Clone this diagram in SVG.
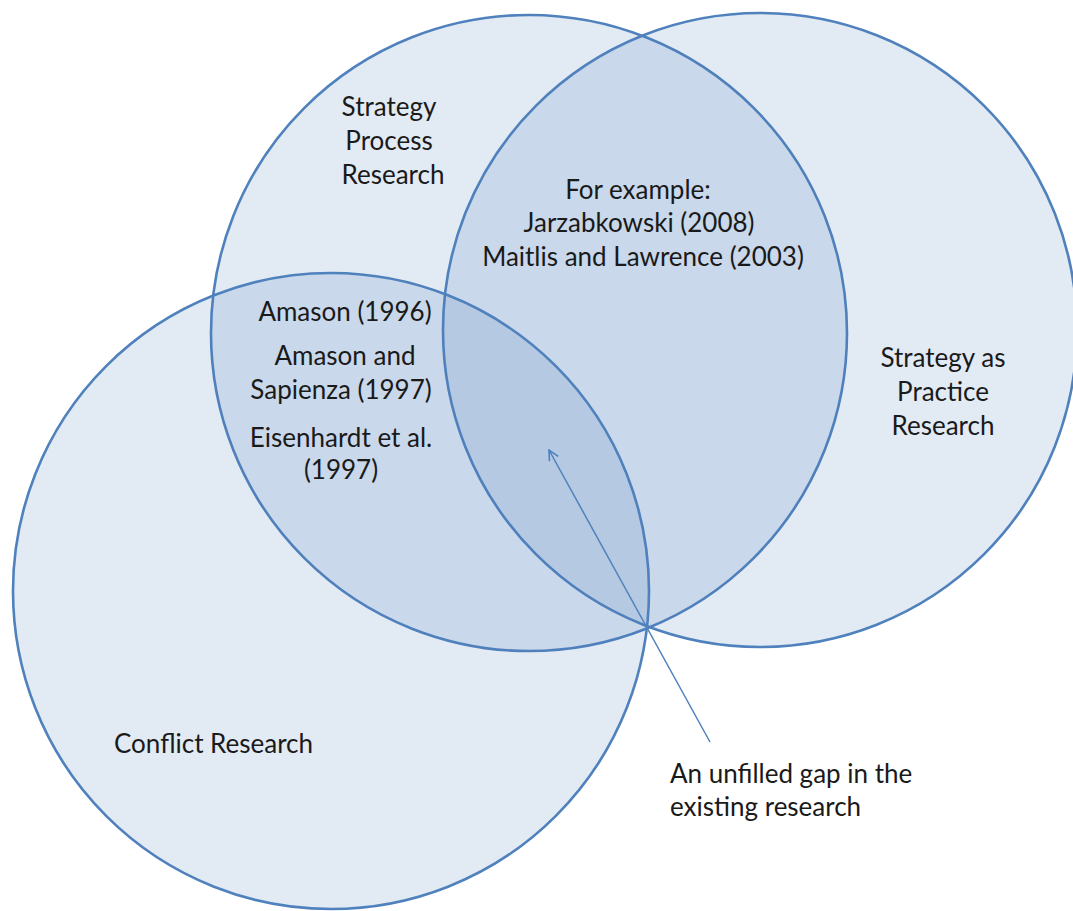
<svg xmlns="http://www.w3.org/2000/svg" width="1073" height="911" viewBox="0 0 1073 911">
  <defs>
    <style>
      .ring { fill: #4f81bd; fill-opacity: 0.165; stroke: #4f81bd; stroke-width: 2.6; }
      .lbl { font-family: Lato, "Open Sans", "Liberation Sans", sans-serif; font-size: 26px; fill: #1a1a1a; text-anchor: middle; }
      .left { text-anchor: start; }
      .pointer { stroke: #4f81bd; stroke-width: 1.5; fill: none; }
    </style>
    <marker id="open-arrow" viewBox="0 0 12 12" refX="11" refY="6" markerWidth="12" markerHeight="12" markerUnits="userSpaceOnUse" orient="auto">
      <path d="M1,1 L11,6 L1,11" fill="none" stroke="#4f81bd" stroke-width="1.6"/>
    </marker>
  </defs>
  <rect width="1073" height="911" fill="#ffffff"/>

  <g id="strategy-process">
    <circle class="ring" cx="529" cy="333" r="318"/>
  </g>
  <g id="strategy-as-practice">
    <circle class="ring" cx="760" cy="330" r="317"/>
  </g>
  <g id="conflict-research">
    <circle class="ring" cx="331" cy="591" r="318"/>
  </g>

  <g id="connectors">
    <line class="pointer" x1="710" y1="742" x2="549" y2="450" marker-end="url(#open-arrow)"/>
  </g>

  <g id="labels-strategy-process">
    <text class="lbl" x="389" y="116">Strategy</text>
    <text class="lbl" x="389" y="150">Process</text>
    <text class="lbl" x="393" y="184">Research</text>
  </g>
  <g id="labels-process-practice">
    <text class="lbl" x="638" y="199">For example:</text>
    <text class="lbl" x="639" y="232">Jarzabkowski (2008)</text>
    <text class="lbl" x="643" y="266">Maitlis and Lawrence (2003)</text>
  </g>
  <g id="labels-process-conflict">
    <text class="lbl" x="345" y="321">Amason (1996)</text>
    <text class="lbl" x="345" y="365">Amason and</text>
    <text class="lbl" x="341" y="399">Sapienza (1997)</text>
    <text class="lbl" x="341" y="447">Eisenhardt et al.</text>
    <text class="lbl" x="341" y="479">(1997)</text>
  </g>
  <g id="labels-practice">
    <text class="lbl" x="943" y="367">Strategy as</text>
    <text class="lbl" x="943" y="401">Practice</text>
    <text class="lbl" x="943" y="435">Research</text>
  </g>
  <g id="labels-conflict">
    <text class="lbl left" x="114" y="753">Conflict Research</text>
  </g>
  <g id="gap-note">
    <text class="lbl left" x="670" y="783">An unfilled gap in the</text>
    <text class="lbl left" x="670" y="816">existing research</text>
  </g>
</svg>
